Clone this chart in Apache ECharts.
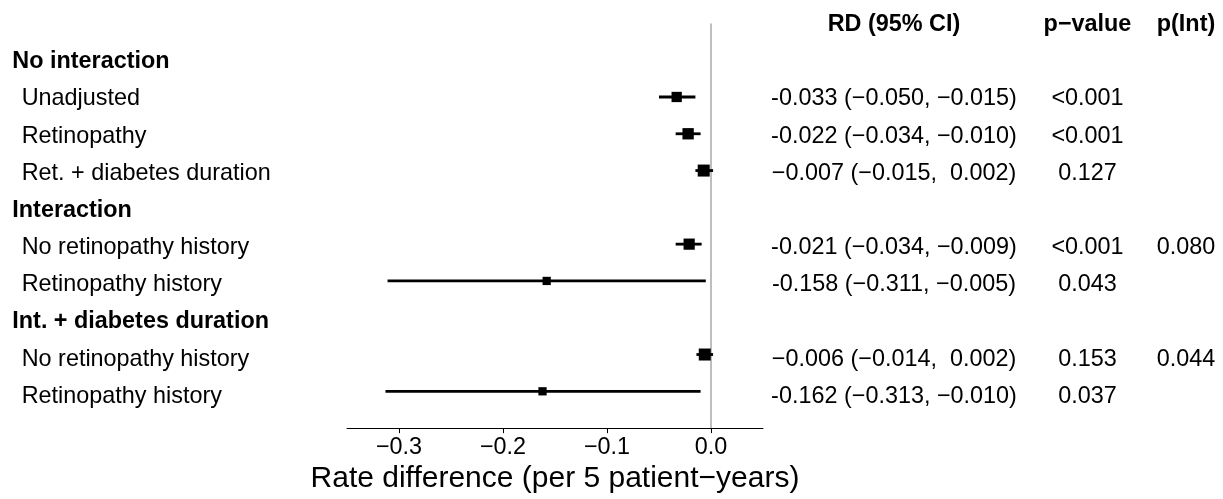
<!DOCTYPE html>
<html><head><meta charset="utf-8">
<script src="https://cdn.jsdelivr.net/npm/echarts@6/dist/echarts.min.js"></script>
<style>html,body{margin:0;padding:0;background:#fff}#c{width:1223px;height:499px}</style>
</head><body><div id="c"></div>
<script>
// ---- data ----
const rowLabels = ["No interaction","Unadjusted","Retinopathy","Ret. + diabetes duration","Interaction","No retinopathy history","Retinopathy history","Int. + diabetes duration","No retinopathy history","Retinopathy history"];
const rowIsHeader = [true,false,false,false,true,false,false,true,false,false];
const estimate = [null,-0.033,-0.022,-0.007,null,-0.021,-0.158,null,-0.006,-0.162];
const lower    = [null,-0.050,-0.034,-0.015,null,-0.034,-0.311,null,-0.014,-0.313];
const upper    = [null,-0.015,-0.010, 0.002,null,-0.009,-0.005,null, 0.002,-0.010];
const rdText   = ["","-0.033 (\u22120.050, \u22120.015)","-0.022 (\u22120.034, \u22120.010)","\u22120.007 (\u22120.015,  0.002)","","-0.021 (\u22120.034, \u22120.009)","-0.158 (\u22120.311, \u22120.005)","","\u22120.006 (\u22120.014,  0.002)","-0.162 (\u22120.313, \u22120.010)"];
const pText    = ["","<0.001","<0.001","0.127","","<0.001","0.043","","0.153","0.037"];
const pIntText = ["","","","","","0.080","","","0.044",""];
const columnHeaders = ["RD (95% CI)","p\u2212value","p(Int)"];
const xTicks = [-0.3,-0.2,-0.1,0.0];
const xTickLabels = ["\u22120.3","\u22120.2","\u22120.1","0.0"];
const xTitle = "Rate difference (per 5 patient\u2212years)";

// ---- layout ----
const FONT = '"Liberation Sans", Arial, Helvetica, sans-serif';
const FS = 23.4;
const GRID_TOP = 23.4, GRID_H = 408.9;
const X_MIN = -0.35, X_MAX = 0.05;
const Y_MIN = -1, Y_MAX = 10;
const HEADER_ROW = -1;
const LABEL_X_HEADER = 12.3, LABEL_X_ITEM = 21.7;
const COL_RD = 894, COL_P = 1087.5, COL_PINT = 1186;
const TEXT_DY = 1.2;

const chart = echarts.init(document.getElementById('c'), null, {renderer:'canvas'});

// build text items
const textItems = [];
rowLabels.forEach((t,k)=>{
  textItems.push({x: rowIsHeader[k]?LABEL_X_HEADER:LABEL_X_ITEM, k, text:t, bold:rowIsHeader[k], align:'left'});
});
[[rdText,COL_RD],[pText,COL_P],[pIntText,COL_PINT]].forEach(([arr,x])=>{
  arr.forEach((t,k)=>{ if(t) textItems.push({x,k,text:t,bold:false,align:'center'}); });
});
[[columnHeaders[0],COL_RD],[columnHeaders[1],COL_P],[columnHeaders[2],COL_PINT]].forEach(([t,x])=>{
  textItems.push({x,k:HEADER_ROW,text:t,bold:true,align:'center'});
});

const ciData = [];
estimate.forEach((e,k)=>{ if(e!==null) ciData.push([e, lower[k], upper[k], k]); });

chart.setOption({
  animation:false,
  backgroundColor:'#fff',
  grid:[
    {left:347, width:416, top:GRID_TOP, height:GRID_H},
    {left:0, width:1223, top:GRID_TOP, height:GRID_H}
  ],
  xAxis:[
    {gridIndex:0, type:'value', min:X_MIN, max:X_MAX, position:'bottom',
     axisLine:{show:true, onZero:false, lineStyle:{color:'#000', width:1}},
     axisTick:{show:true, customValues:xTicks, length:5, lineStyle:{color:'#000', width:1}},
     axisLabel:{show:true, customValues:xTicks, margin:8, color:'#000', fontFamily:FONT, fontSize:FS,
       formatter:(v)=>{const i=xTicks.findIndex(t=>Math.abs(t-v)<1e-9); return i>=0?xTickLabels[i]:'';}},
     splitLine:{show:false},
     name:xTitle, nameLocation:'middle', nameGap:26,
     nameTextStyle:{color:'#000', fontFamily:FONT, fontSize:30}
    },
    {gridIndex:1, type:'value', min:0, max:1223, show:false}
  ],
  yAxis:[
    {gridIndex:0, type:'value', min:Y_MIN, max:Y_MAX, inverse:true, show:false},
    {gridIndex:1, type:'value', min:Y_MIN, max:Y_MAX, inverse:true, show:false}
  ],
  series:[
    {type:'line', xAxisIndex:0, yAxisIndex:0, data:[[0,Y_MIN],[0,Y_MAX]], symbol:'none',
     lineStyle:{color:'#bebebe', width:2}, z:1, silent:true},
    {type:'custom', xAxisIndex:0, yAxisIndex:0, data:ciData, z:3,
     renderItem:(params, api)=>{
       const est=api.value(0), lo=api.value(1), hi=api.value(2), k=api.value(3);
       const c=api.coord([est,k]), l=api.coord([lo,k]), h=api.coord([hi,k]);
       const s = 8 + 4*Math.min(1, 0.02/(hi-lo));
       return {type:'group', children:[
         {type:'line', shape:{x1:l[0],y1:l[1],x2:h[0],y2:h[1]}, style:{stroke:'#000', lineWidth:2.8}},
         {type:'rect', shape:{x:c[0]-s/2, y:c[1]-s/2, width:s, height:s}, style:{fill:'#000'}}
       ]};
     }},
    {type:'custom', xAxisIndex:1, yAxisIndex:1, z:4,
     data:textItems.map(t=>[t.x,t.k]),
     renderItem:(params, api)=>{
       const t=textItems[params.dataIndex];
       const p=api.coord([api.value(0), api.value(1)]);
       return {type:'text', x:p[0], y:p[1]+TEXT_DY, style:{text:t.text, fill:'#000',
         font:(t.bold?'bold ':'')+FS+'px '+FONT, textAlign:t.align, textVerticalAlign:'middle'}};
     }}
  ]
});
</script></body></html>
